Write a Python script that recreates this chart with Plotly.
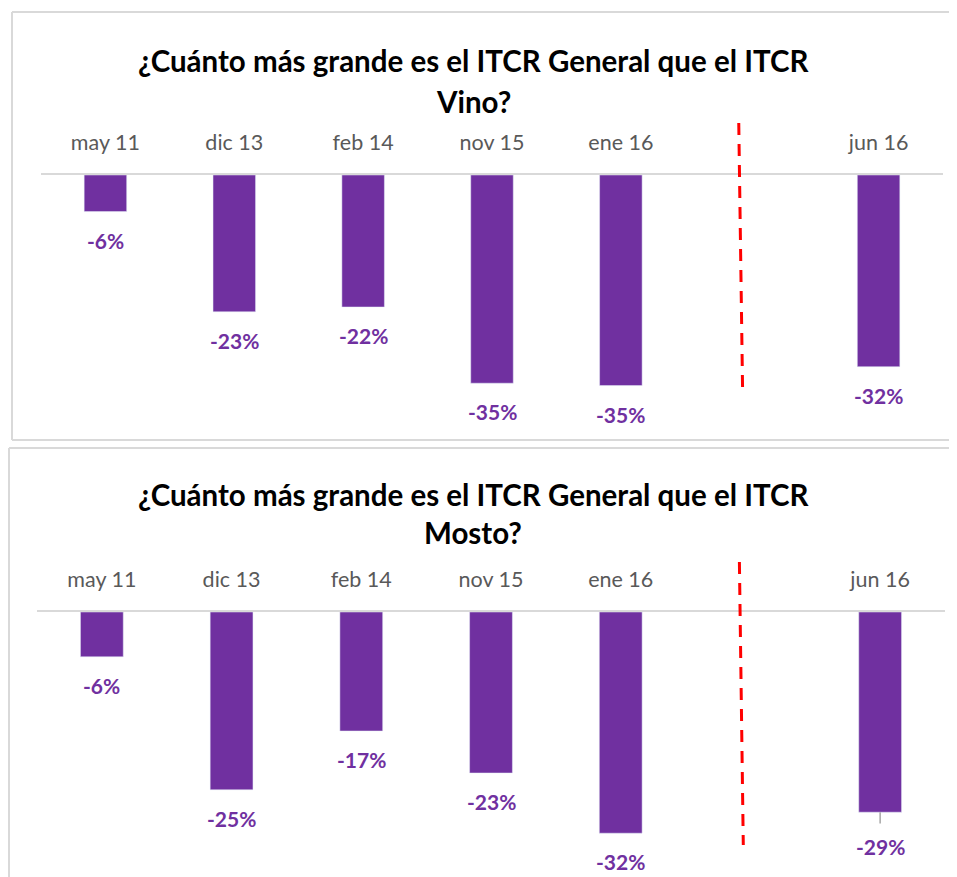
import plotly.graph_objects as go

OFF = 8  # page body margin offset
W, H = 957 - OFF, 877 - OFF

categories = ["may 11", "dic 13", "feb 14", "nov 15", "ene 16", " ", "jun 16"]
vino_values = [-6.1, -22.8, -22.0, -34.7, -35.1, None, -31.95]
mosto_values = [-6.4, -25.4, -17.0, -23.0, -31.6, None, -28.6]
vino_labels = ["-6%", "-23%", "-22%", "-35%", "-35%", "", "-32%"]
mosto_labels = ["-6%", "-25%", "-17%", "-23%", "-32%", "", "-29%"]
title_vino = ["¿Cuánto más grande es el ITCR General que el ITCR", "Vino?"]
title_mosto = ["¿Cuánto más grande es el ITCR General que el ITCR", "Mosto?"]

PURPLE = "#7030A0"
GRID = "#D9D9D9"
FONT = "Lato"


def py(px):
    return 1 - (px - OFF) / H


def pxx(px):
    return (px - OFF) / W


fig = go.Figure()

fig.add_trace(go.Bar(x=categories, y=vino_values, marker_color=PURPLE, width=0.33,
                     xaxis="x", yaxis="y", hoverinfo="skip"))
fig.add_trace(go.Bar(x=categories, y=mosto_values, marker_color=PURPLE, width=0.33,
                     xaxis="x2", yaxis="y2", hoverinfo="skip"))

# panel geometry (pixels in the screenshot)
top_zero, top_scale = 175, 6.0
bot_zero, bot_scale = 612, 7.0
top_range = [-40, 0]
bot_range = [-34, 0]

top_dom = [py(top_zero - top_range[0] * top_scale), py(top_zero)]
bot_dom = [py(bot_zero - bot_range[0] * bot_scale), py(bot_zero)]

axis_common = dict(type="category", showgrid=False, zeroline=False, side="top",
                   showline=True, linecolor=GRID, linewidth=2, ticks="",
                   tickfont=dict(family=FONT, size=21.5, color="#595959"),
                   ticklabelstandoff=14, fixedrange=True,
                   categoryorder="array", categoryarray=categories)

fig.update_layout(
    width=W, height=H,
    margin=dict(l=0, r=0, t=0, b=0),
    paper_bgcolor="white", plot_bgcolor="white",
    showlegend=False,
    font=dict(family=FONT),
    xaxis=dict(domain=[pxx(41), pxx(943)], anchor="y", **axis_common),
    yaxis=dict(domain=top_dom, range=top_range, visible=False, anchor="x", fixedrange=True),
    xaxis2=dict(domain=[pxx(37), pxx(945)], anchor="y2", **axis_common),
    yaxis2=dict(domain=bot_dom, range=bot_range, visible=False, anchor="x2", fixedrange=True),
)

shapes = []
border = dict(color=GRID, width=2)
# top panel border (open on the right)
shapes.append(dict(type="line", xref="paper", yref="paper", x0=pxx(12), x1=1.2,
                   y0=py(12), y1=py(12), line=border, layer="below"))
shapes.append(dict(type="line", xref="paper", yref="paper", x0=pxx(12), x1=1.2,
                   y0=py(440), y1=py(440), line=border, layer="below"))
shapes.append(dict(type="line", xref="paper", yref="paper", x0=pxx(12), x1=pxx(12),
                   y0=py(12), y1=py(440), line=border, layer="below"))
# bottom panel border (open on the right and bottom)
shapes.append(dict(type="line", xref="paper", yref="paper", x0=pxx(9), x1=1.2,
                   y0=py(448), y1=py(448), line=border, layer="below"))
shapes.append(dict(type="line", xref="paper", yref="paper", x0=pxx(9), x1=pxx(9),
                   y0=py(448), y1=-0.1, line=border, layer="below"))
# red dashed separators
shapes.append(dict(type="line", xref="x", yref="paper", x0=4.915, x1=4.945,
                   y0=py(123), y1=py(393), line=dict(color="#FF0000", width=3, dash="12px,9px")))
shapes.append(dict(type="line", xref="x2", yref="paper", x0=4.915, x1=4.945,
                   y0=py(562), y1=py(845), line=dict(color="#FF0000", width=3, dash="12px,9px")))
# leader line for jun 16 label (bottom)
shapes.append(dict(type="line", xref="x2", yref="y2", x0=6, x1=6,
                   y0=mosto_values[6], y1=mosto_values[6] - 1.6,
                   line=dict(color="#A6A6A6", width=1.5)))
fig.update_layout(shapes=shapes)

ann = []
for lines, ys in ((title_vino, (60, 101)), (title_mosto, (494, 532))):
    for t, yy in zip(lines, ys):
        ann.append(dict(text=t, xref="paper", yref="paper", x=pxx(473), y=py(yy),
                        xanchor="center", yanchor="middle", showarrow=False,
                        font=dict(family=FONT, size=29.5, color="black", weight="bold")))

for vals, labs, xr, yr in ((vino_values, vino_labels, "x", "y"),
                           (mosto_values, mosto_labels, "x2", "y2")):
    for i, (c, v, lab) in enumerate(zip(categories, vals, labs)):
        if v is None:
            continue
        shift = -14
        if xr == "x2" and c == "jun 16":
            shift = -20
        ann.append(dict(text=lab, xref=xr, yref=yr, x=c, y=v, xanchor="center",
                        yanchor="top", yshift=shift, showarrow=False,
                        font=dict(family=FONT, size=21, color=PURPLE, weight="bold")))
fig.update_layout(annotations=ann)

fig.write_html("out.html")
